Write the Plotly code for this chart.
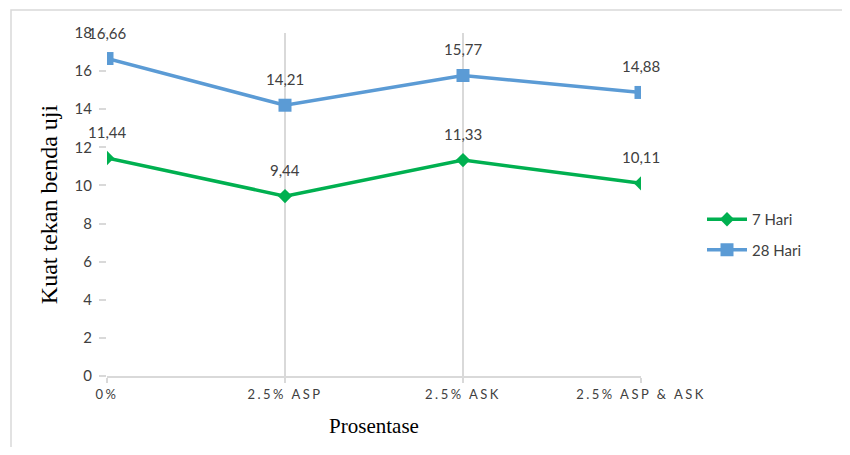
import plotly.graph_objects as go

categories = ["0%", "2.5% ASP", "2.5% ASK", "2.5% ASP & ASK"]
hari7 = [11.44, 9.44, 11.33, 10.11]
hari28 = [16.66, 14.21, 15.77, 14.88]
y_ticks = [0, 2, 4, 6, 8, 10, 12, 14, 16, 18]

GREEN = "#00b050"
BLUE = "#5b9bd5"
TXT = "#404040"
GRID = "#d9d9d9"

fig = go.Figure()
fig.add_trace(go.Scatter(
    x=categories, y=hari7, name="7 Hari", mode="lines+markers", legendgroup="a",
    line=dict(color=GREEN, width=3.5),
    marker=dict(symbol="diamond", size=11, color=GREEN),
))
fig.add_trace(go.Scatter(
    x=categories, y=hari28, name="28 Hari", mode="lines+markers", legendgroup="b",
    line=dict(color=BLUE, width=3.5),
    marker=dict(symbol="square", size=13, color=BLUE),
))

for series in (hari7, hari28):
    for c, v in zip(categories, series):
        fig.add_annotation(
            x=c, y=v, text=f"{v:.2f}".replace(".", ","), showarrow=False,
            yshift=26, font=dict(family="Lato, Noto Sans", size=15, color=TXT),
        )

# page body has an 8px margin; reference pixel positions minus 8
OFF = 8
W, H = 850 - 2 * OFF, 455 - 2 * OFF
L, R, T, B = 107 - OFF, 641 - OFF, 33 - OFF, 376 - OFF
pw, ph = R - L, B - T

fig.add_shape(
    type="rect", xref="paper", yref="paper",
    x0=(11 - OFF - L) / pw, x1=(W + 40 - L) / pw,
    y0=(B - (H + 40)) / ph, y1=(B - (10 - OFF)) / ph,
    line=dict(color=GRID, width=1.5), layer="below",
)

fig.update_layout(
    width=W, height=H,
    margin=dict(l=L, r=W - R, t=T, b=H - B, autoexpand=False),
    paper_bgcolor="white", plot_bgcolor="white",
    font=dict(family="Lato, Noto Sans", color=TXT),
    legend=dict(
        x=(702 - OFF - L) / pw, y=(B - (203 - OFF)) / ph, xanchor="left", yanchor="top",
        font=dict(family="Lato, Noto Sans", size=15, color=TXT),
        bgcolor="rgba(0,0,0,0)", itemwidth=40, tracegroupgap=8,
    ),
    xaxis=dict(
        type="category", range=[0, 3],
        showgrid=True, gridcolor=GRID, gridwidth=1.5,
        showline=True, linecolor=GRID, linewidth=2,
        ticks="outside", ticklen=5, tickcolor=GRID, tickwidth=1.5,
        tickfont=dict(family="Lato, Noto Sans", size=13, color=TXT),
        title=dict(text="Prosentase", standoff=18,
                   font=dict(family="Liberation Serif", size=21, color="#000000")),
        zeroline=False,
    ),
    yaxis=dict(
        range=[0, 18], tickvals=y_ticks,
        showgrid=False, showline=False, zeroline=False,
        ticks="outside", ticklen=7, tickcolor=GRID, tickwidth=1.5,
        ticklabelstandoff=4,
        tickfont=dict(family="Lato, Noto Sans", size=15, color=TXT),
        title=dict(text="Kuat tekan benda uji", standoff=10,
                   font=dict(family="Liberation Serif", size=24, color="#000000")),
    ),
)

post = (
    "var gd=document.getElementById('{plot_id}');"
    "function ls(){gd.querySelectorAll('.xtick text').forEach(function(t){t.style.letterSpacing='2.5px';});}"
    "ls();gd.on('plotly_afterplot',ls);"
)
fig.write_html("out.html", post_script=post)
